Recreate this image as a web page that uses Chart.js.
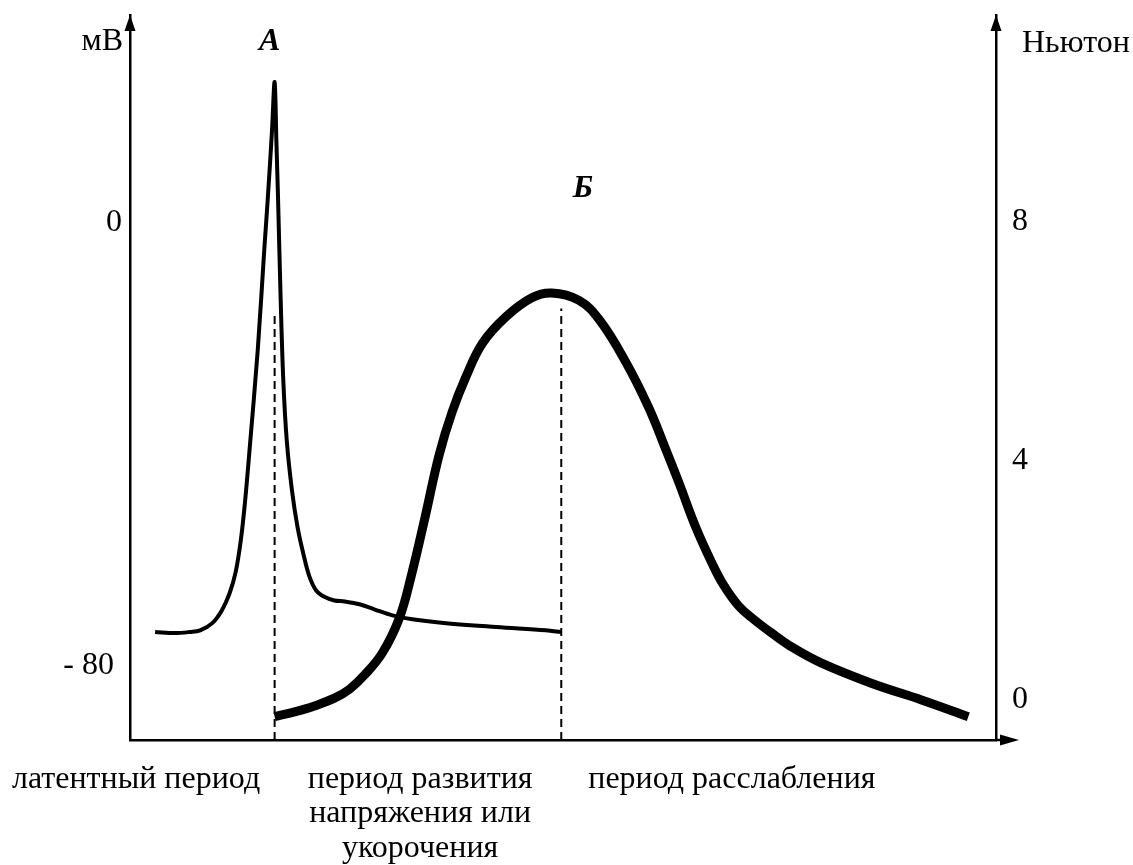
<!DOCTYPE html>
<html lang="ru">
<head>
<meta charset="utf-8">
<title>Потенциал действия и одиночное сокращение</title>
<script src="https://cdn.jsdelivr.net/npm/chart.js@4/dist/chart.umd.min.js"></script>
<style>
  html, body { margin: 0; padding: 0; background: #fff; }
  canvas { display: block; }
</style>
</head>
<body>
<canvas id="chart" width="1133" height="865"></canvas>
<script>
// время (усл. ед.) и потенциал действия, мВ — кривая А
const apTime = [2.9, 5.2, 6.9, 8.1, 9.5, 10.6, 11.5, 12.2, 12.8, 13.3, 13.8, 14.75, 15.5, 15.9, 16.4, 16.7,
                16.9, 17.1, 17.4, 17.7, 18.1, 18.7, 19.35, 20.05, 20.7, 21.5, 22.5, 23.6, 24.8,
                26.5, 28.2, 30.3, 32.6, 36.5, 42.3, 48.0, 49.8];
const apMv = [-74.0, -74.2, -74.0, -73.7, -72.4, -70.1, -67.0, -63.2, -57.4, -50.2, -41.2, -23.1, -5.1, 4.0, 16.6, 25.3,
              14.8, 4.0, -14.1, -28.5, -39.4, -48.4, -55.1, -60.1, -63.9, -66.5, -67.7, -68.3, -68.5,
              -69.0, -69.9, -71.0, -71.7, -72.4, -73.1, -73.7, -74.0];

// время и сила сокращения, Ньютон — кривая Б
const forceTime = [16.7, 19.0, 21.3, 23.6, 25.35, 27.1, 29.15, 31.1, 32.5, 34.0, 35.7, 37.2, 38.8, 40.7,
                   43.4, 46.4, 48.7, 51.8, 54.2, 57.3, 59.9, 61.9, 63.4, 65.3, 67.2, 68.55,
                   70.3, 72.1, 74.1, 76.6, 79.8, 85.6, 91.4, 96.8];
const forceN = [-0.28, -0.20, -0.10, 0.03, 0.18, 0.42, 0.79, 1.37, 2.09, 3.01, 4.10, 4.82, 5.41, 5.97,
                6.41, 6.73, 6.81, 6.69, 6.36, 5.64, 4.89, 4.18, 3.63, 2.90, 2.29, 1.92,
                1.57, 1.34, 1.12, 0.87, 0.62, 0.28, 0, -0.28];

// границы периодов (пунктир) и высота пунктира, Ньютон
const boundaryTime = [16.7, 49.8];
const boundaryTopN = [6.49, 6.55];

// подписи осей
const mvTicks = [-80, 0];
const mvTickLabels = ['- 80 ', '0'];
const newtonTicks = [0, 4, 8];
const periodTime = [0.7, 33.5, 69.5];
const periodLabels = [
  ['латентный период'],
  ['период развития', 'напряжения или', 'укорочения'],
  ['период расслабления']
];

const mvRange = [-93.5, 37.4];
const newtonRange = [-0.67, 11.46];
const timeRange = [0, 100];

const serif = "'Liberation Serif', 'Times New Roman', serif";
const ink = '#000';
const fontSize = 32;

function toPoints(xs, ys) {
  return xs.map((x, i) => ({ x: x, y: ys[i] }));
}

// стрелки осей и буквенные подписи
const axisDecor = {
  id: 'axisDecor',
  afterDraw(chart) {
    const ctx = chart.ctx;
    const a = chart.chartArea;
    const xs = chart.scales.x;
    ctx.save();
    ctx.fillStyle = ink;
    ctx.strokeStyle = ink;

    // стрелки вертикальных осей
    [a.left, a.right].forEach(px => {
      ctx.beginPath();
      ctx.moveTo(px, a.top);
      ctx.lineTo(px - 5.5, a.top + 16);
      ctx.lineTo(px + 5.5, a.top + 16);
      ctx.closePath();
      ctx.fill();
    });

    // продолжение оси времени и стрелка
    ctx.lineWidth = 2.5;
    ctx.beginPath();
    ctx.moveTo(a.right, a.bottom);
    ctx.lineTo(a.right + 8, a.bottom);
    ctx.stroke();
    ctx.beginPath();
    ctx.moveTo(a.right + 23, a.bottom);
    ctx.lineTo(a.right + 4, a.bottom - 5.5);
    ctx.lineTo(a.right + 4, a.bottom + 5.5);
    ctx.closePath();
    ctx.fill();

    // единицы
    ctx.font = fontSize + 'px ' + serif;
    ctx.textBaseline = 'middle';
    ctx.textAlign = 'right';
    ctx.fillText('мВ', a.left - 7, 42);
    ctx.textAlign = 'left';
    ctx.fillText('Ньютон', a.right + 26, 44);

    // буквы кривых
    ctx.font = 'italic bold ' + fontSize + 'px ' + serif;
    ctx.textAlign = 'center';
    ctx.fillText('А', xs.getPixelForValue(apTime[apMv.indexOf(Math.max(...apMv))]) - 5, 42);
    ctx.fillText('Б', xs.getPixelForValue(52.3), 189);
    ctx.restore();
  }
};

function zeroPad(s) {
  s.paddingTop = 0;
  s.paddingBottom = 0;
  s.paddingLeft = 0;
  s.paddingRight = 0;
}

new Chart(document.getElementById('chart'), {
  type: 'line',
  data: {
    datasets: [
      {
        label: 'А',
        data: toPoints(apTime, apMv),
        yAxisID: 'y',
        borderColor: ink,
        borderWidth: 4,
        tension: 0.35,
        pointRadius: 0,
        borderCapStyle: 'butt',
        borderJoinStyle: 'round',
        fill: false
      },
      {
        label: 'Б',
        data: toPoints(forceTime, forceN),
        yAxisID: 'yN',
        borderColor: ink,
        borderWidth: 9,
        tension: 0.4,
        pointRadius: 0,
        borderCapStyle: 'butt',
        borderJoinStyle: 'round',
        fill: false
      },
      ...boundaryTime.map((t, i) => ({
        label: 'граница ' + (i + 1),
        data: [{ x: t, y: newtonRange[0] }, { x: t, y: boundaryTopN[i] }],
        yAxisID: 'yN',
        borderColor: ink,
        borderWidth: 2,
        borderDash: [8, 5],
        pointRadius: 0,
        tension: 0,
        fill: false
      }))
    ]
  },
  options: {
    responsive: false,
    animation: false,
    devicePixelRatio: 1,
    layout: { padding: { top: 15, left: 0, right: 0, bottom: 0 } },
    plugins: {
      legend: { display: false },
      tooltip: { enabled: false }
    },
    scales: {
      x: {
        type: 'linear',
        position: 'bottom',
        min: timeRange[0],
        max: timeRange[1],
        grid: { display: false, drawTicks: false },
        border: { display: true, color: ink, width: 2.5 },
        afterBuildTicks: s => { s.ticks = periodTime.map(v => ({ value: v })); },
        ticks: {
          autoSkip: false,
          maxRotation: 0,
          padding: 22,
          color: ink,
          font: { family: serif, size: fontSize, lineHeight: 1.08 },
          callback: (v, i) => periodLabels[i]
        },
        afterFit: s => { s.height = 125; zeroPad(s); }
      },
      y: {
        type: 'linear',
        position: 'left',
        min: mvRange[0],
        max: mvRange[1],
        grid: { display: false, drawTicks: false },
        border: { display: true, color: ink, width: 2.5 },
        afterBuildTicks: s => { s.ticks = mvTicks.map(v => ({ value: v })); },
        ticks: {
          padding: 8,
          color: ink,
          font: { family: serif, size: fontSize },
          callback: (v, i) => mvTickLabels[i]
        },
        afterFit: s => { s.width = 130; zeroPad(s); }
      },
      yN: {
        type: 'linear',
        position: 'right',
        min: newtonRange[0],
        max: newtonRange[1],
        grid: { display: false, drawTicks: false },
        border: { display: true, color: ink, width: 2.5 },
        afterBuildTicks: s => { s.ticks = newtonTicks.map(v => ({ value: v })); },
        ticks: {
          padding: 16,
          color: ink,
          font: { family: serif, size: fontSize },
          callback: v => String(v)
        },
        afterFit: s => { s.width = 137; zeroPad(s); }
      }
    }
  },
  plugins: [axisDecor]
});
</script>
</body>
</html>
